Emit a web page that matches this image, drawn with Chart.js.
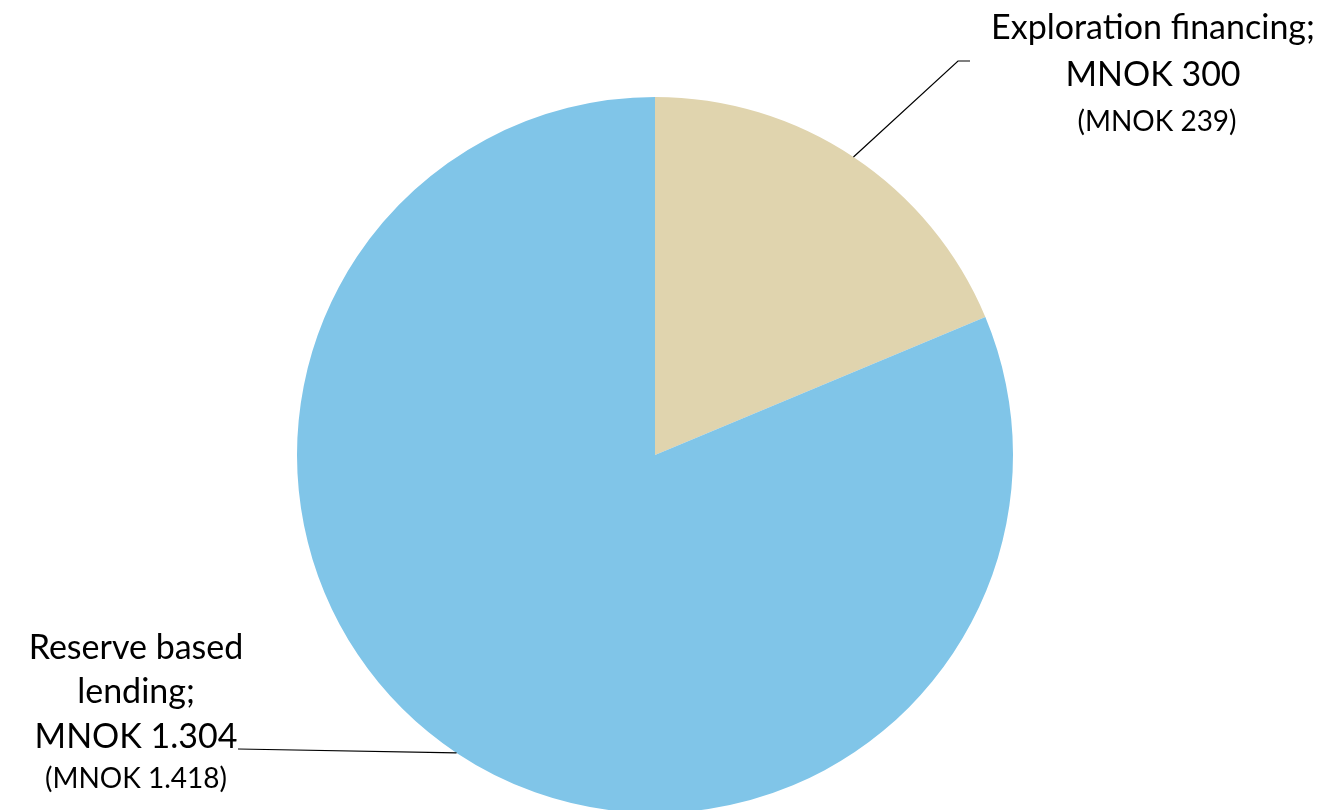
<!DOCTYPE html>
<html>
<head>
<meta charset="utf-8">
<script src="https://cdn.jsdelivr.net/npm/chart.js@4/dist/chart.umd.min.js"></script>
<style>
  html, body { margin: 0; padding: 0; background: #fff; }
  canvas { display: block; }
</style>
</head>
<body>
<canvas id="grafico" width="1336" height="810"></canvas>
<script>
// Datos
const categorias = ['Exploration financing', 'Reserve based lending'];
const valores = [300, 1304];
const valoresTexto = ['MNOK 300', 'MNOK 1.304'];
const valoresAnteriores = ['(MNOK 239)', '(MNOK 1.418)'];
const colores = ['#E0D4AE', '#80C5E8'];

const fuente = 'Lato, "Open Sans", sans-serif';

// Etiquetas con línea guía
const etiquetasPlugin = {
    id: 'etiquetas',
    afterDatasetsDraw(chart) {
        const ctx = chart.ctx;
        const meta = chart.getDatasetMeta(0);
        ctx.save();
        ctx.strokeStyle = '#000';
        ctx.lineWidth = 1.2;
        ctx.fillStyle = '#000';
        ctx.textAlign = 'center';
        ctx.textBaseline = 'middle';

        meta.data.forEach((arc, i) => {
            const p = arc.getProps(['x', 'y', 'startAngle', 'endAngle', 'outerRadius'], true);
            const mid = (p.startAngle + p.endAngle) / 2;
            const ax = p.x + Math.cos(mid) * p.outerRadius;
            const ay = p.y + Math.sin(mid) * p.outerRadius;

            ctx.beginPath();
            if (i === 0) {
                ctx.moveTo(ax, ay);
                ctx.lineTo(958, 61);
                ctx.lineTo(970, 61);
                ctx.stroke();
                ctx.font = '34px ' + fuente;
                ctx.fillText(categorias[i] + ';', 1153, 28);
                ctx.fillText(valoresTexto[i], 1153, 75);
                ctx.font = '28px ' + fuente;
                ctx.fillText(valoresAnteriores[i], 1157, 122);
            } else {
                ctx.moveTo(ax, ay);
                ctx.lineTo(238, 749);
                ctx.stroke();
                ctx.font = '34px ' + fuente;
                ctx.fillText('Reserve based', 136, 648);
                ctx.fillText('lending;', 136, 692);
                ctx.fillText(valoresTexto[i], 136, 737);
                ctx.font = '28px ' + fuente;
                ctx.fillText(valoresAnteriores[i], 136, 779);
            }
        });
        ctx.restore();
    }
};

new Chart(document.getElementById('grafico'), {
    type: 'pie',
    data: {
        labels: categorias,
        datasets: [{
            data: valores,
            backgroundColor: colores,
            borderWidth: 0,
            radius: 358,
            clip: false
        }]
    },
    options: {
        responsive: false,
        animation: false,
        layout: { padding: { top: 100, bottom: 0, left: 0, right: 26 } },
        plugins: {
            legend: { display: false },
            tooltip: { enabled: false }
        }
    },
    plugins: [etiquetasPlugin]
});
</script>
</body>
</html>
